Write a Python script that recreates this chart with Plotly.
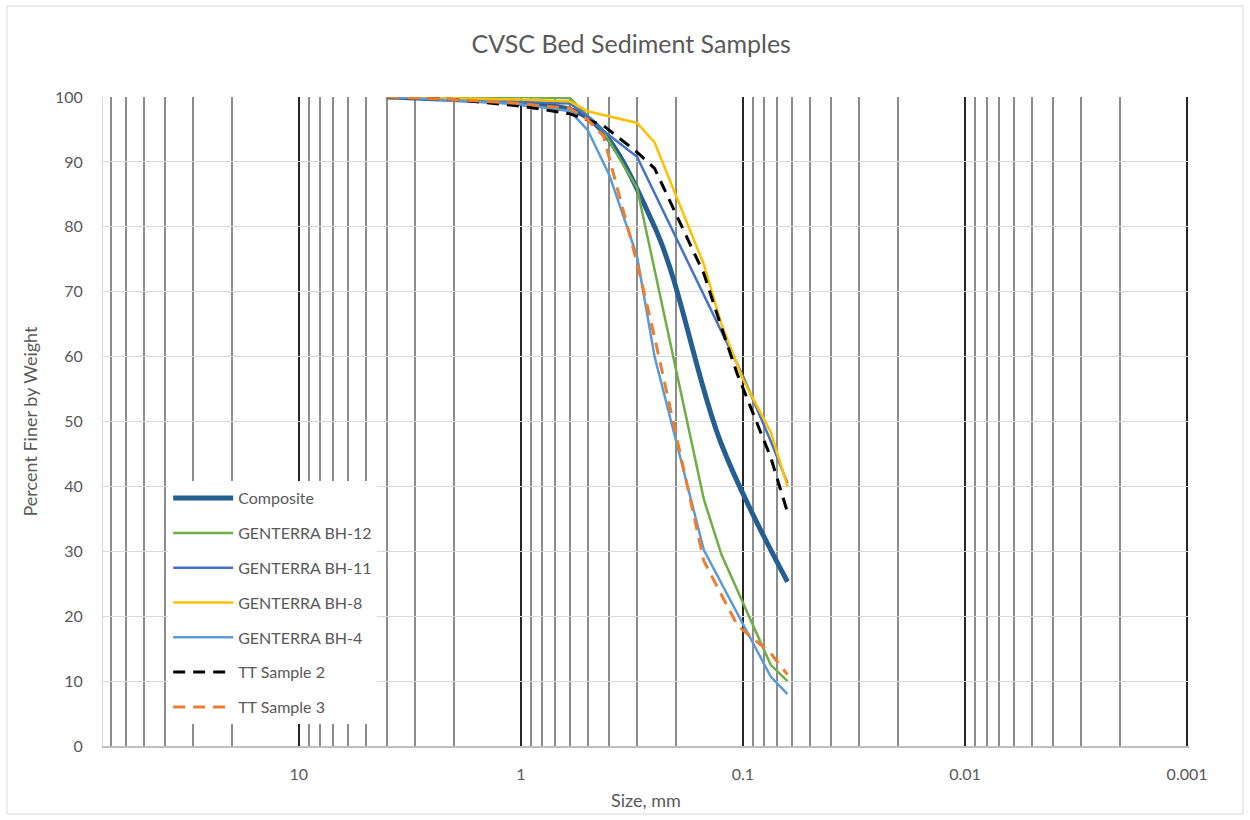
import math
import plotly.graph_objects as go

# ---- data (sizes in mm, percent finer by weight) ----
composite_size = [4.0, 2.0, 1.0, 0.5, 0.25, 0.125, 0.063]
composite_pct = [100, 99.6, 99.0, 96.8, 80.0, 46.5, 25.3]

bh12_size = [4.0, 2.0, 1.0, 0.6, 0.425, 0.3, 0.15, 0.125, 0.075, 0.063]
bh12_pct = [100, 100, 100, 99.8, 94.7, 86.0, 38.0, 29.5, 12.5, 10.0]

bh11_size = [4.0, 2.0, 1.0, 0.6, 0.5, 0.425, 0.3, 0.15, 0.1, 0.075, 0.063]
bh11_pct = [100, 99.6, 99.2, 99.0, 97.0, 94.8, 90.8, 69.5, 57.0, 47.0, 40.5]

bh8_size = [4.0, 2.0, 1.0, 0.6, 0.5, 0.3, 0.25, 0.15, 0.125, 0.1, 0.075, 0.063]
bh8_pct = [100, 99.8, 99.6, 99.3, 97.8, 96.0, 93.0, 74.2, 65.0, 56.5, 48.4, 40.0]

bh4_size = [4.0, 2.0, 1.0, 0.6, 0.5, 0.4, 0.3, 0.25, 0.15, 0.075, 0.063]
bh4_pct = [100, 99.5, 98.9, 97.8, 94.9, 88.0, 75.5, 60.0, 30.2, 10.7, 8.0]

tt2_size = [4.0, 2.0, 1.0, 0.6, 0.425, 0.3, 0.25, 0.15, 0.125, 0.106, 0.075, 0.063]
tt2_pct = [100, 99.6, 98.6, 97.4, 95.6, 91.5, 89.0, 72.8, 64.5, 57.3, 44.5, 36.0]

tt3_size = [4.0, 2.0, 1.0, 0.6, 0.5, 0.425, 0.3, 0.25, 0.15, 0.106, 0.075, 0.063]
tt3_pct = [100, 99.6, 99.0, 98.2, 96.5, 94.0, 74.5, 63.0, 28.5, 18.6, 14.3, 11.0]

x_tick_vals = [10, 1, 0.1, 0.01, 0.001]
x_tick_text = ["10", "1", "0.1", "0.01", "0.001"]
x_max_mm = 76.2
x_min_mm = 0.00098

FONT = "Lato"
TXT = "#595959"

series = [
    ("Composite", composite_size, composite_pct, "#255E91", 5, "solid", "spline"),
    ("GENTERRA BH-12", bh12_size, bh12_pct, "#70AD47", 2.5, "solid", "linear"),
    ("GENTERRA BH-11", bh11_size, bh11_pct, "#4472C4", 2.5, "solid", "linear"),
    ("GENTERRA BH-8", bh8_size, bh8_pct, "#FFC000", 2.5, "solid", "linear"),
    ("GENTERRA BH-4", bh4_size, bh4_pct, "#5B9BD5", 2.5, "solid", "linear"),
    ("TT Sample 2", tt2_size, tt2_pct, "#000000", 3, "12px,8px", "linear"),
    ("TT Sample 3", tt3_size, tt3_pct, "#ED7D31", 3, "12px,8px", "linear"),
]

fig = go.Figure()
for i, (name, xs, ys, color, w, dash, shape) in enumerate(series):
    fig.add_trace(go.Scatter(
        x=xs, y=ys, mode="lines", name=name, legendgroup="g%d" % i,
        line=dict(color=color, width=w, dash=dash, shape=shape),
    ))

fig.update_layout(
    width=1250, height=820,
    margin=dict(l=103, r=61, t=97, b=74),
    paper_bgcolor="white", plot_bgcolor="white",
    font=dict(family=FONT, color=TXT, size=16),
    title=dict(text="CVSC Bed Sediment Samples", x=0.505, xanchor="center",
               y=0.946, yanchor="middle", font=dict(size=25, color=TXT, family=FONT)),
    legend=dict(x=0.06, y=0.408, xanchor="left", yanchor="top",
                bgcolor="white", borderwidth=0, font=dict(size=16, color=TXT),
                tracegroupgap=11, itemwidth=60),
    showlegend=True,
)

fig.update_xaxes(
    type="log", range=[math.log10(x_max_mm), math.log10(x_min_mm)],
    tickmode="array", tickvals=x_tick_vals, ticktext=x_tick_text,
    showgrid=True, gridcolor="#262626", gridwidth=1.5,
    minor=dict(dtick="D1", showgrid=True, gridcolor="#8C8C8C", gridwidth=1.5, ticks=""),
    showline=True, linecolor="#BFBFBF", linewidth=1.5,
    ticks="", ticklabelstandoff=13, zeroline=False,
    title=dict(text="Size, mm", font=dict(size=18, color=TXT), standoff=12),
    tickfont=dict(size=16, color=TXT),
)
fig.update_yaxes(
    range=[0, 100], dtick=10, showgrid=True, gridcolor="#D9D9D9", gridwidth=1,
    showline=True, linecolor="#D9D9D9", linewidth=1, zeroline=False,
    ticks="", ticklabelstandoff=16,
    title=dict(text="Percent Finer by Weight", font=dict(size=18, color=TXT), standoff=12),
    tickfont=dict(size=16, color=TXT),
)

# chart-area border (Excel style)
fig.add_shape(type="rect", xref="paper", yref="paper",
              x0=(7 - 103) / 1086, x1=(1243 - 103) / 1086,
              y0=(746 - 814) / 649, y1=(746 - 6) / 649,
              line=dict(color="#D9D9D9", width=1), fillcolor="rgba(0,0,0,0)", layer="below")

fig.write_html("out.html")
